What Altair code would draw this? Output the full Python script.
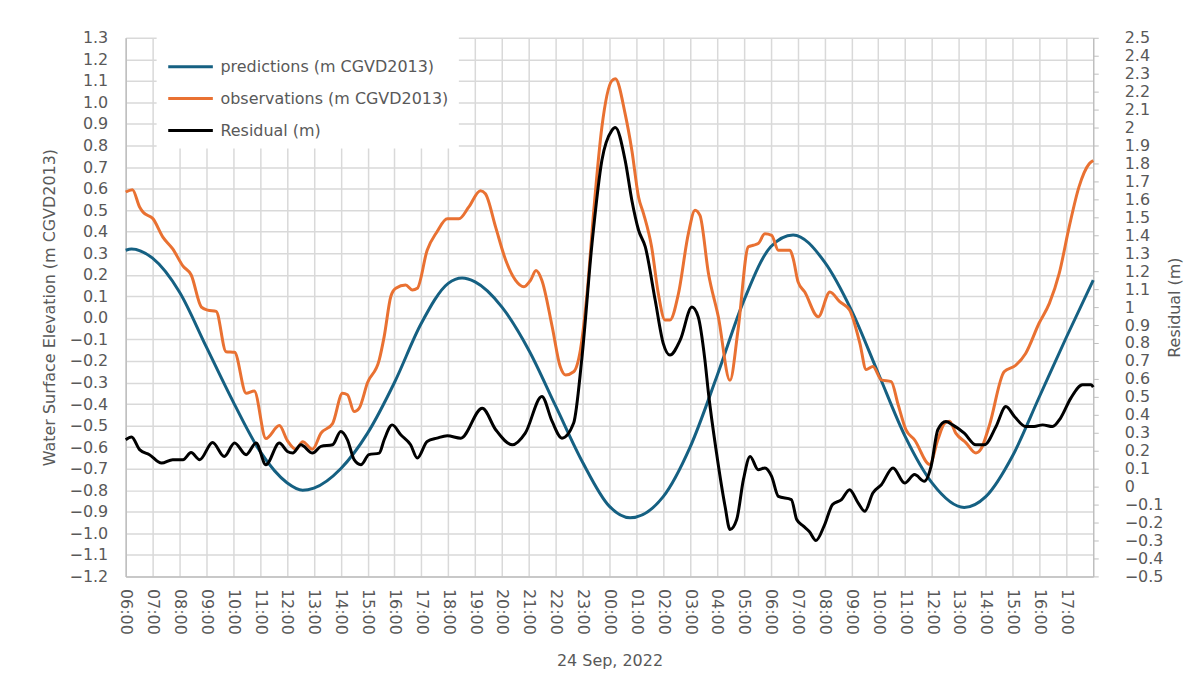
import altair as alt
import pandas as pd

FONT = "DejaVu Sans"
GREY = "#595959"

series_names = ["predictions (m CGVD2013)", "observations (m CGVD2013)", "Residual (m)"]
series_colors = ["#156082", "#E97132", "#000000"]

# day-of-month + time (Sep 2022)
pred_times = ["23 06:00", "23 06:13", "23 07:00", "23 08:00", "23 09:00", "23 10:00", "23 11:00",
              "23 12:00", "23 12:35", "23 13:00", "23 14:00", "23 15:00", "23 16:00", "23 17:00",
              "23 18:00", "23 18:31", "23 19:00", "23 20:00", "23 21:00", "23 22:00", "23 23:00",
              "24 00:00", "24 00:46", "24 02:00", "24 03:00", "24 04:00", "24 05:00", "24 06:00",
              "24 06:50", "24 08:00", "24 09:00", "24 10:00", "24 11:00", "24 12:00", "24 13:12",
              "24 14:00", "24 15:00", "24 16:00", "24 17:00", "24 18:00"]
pred_values = [0.314, 0.32, 0.277, 0.12, -0.135, -0.39, -0.62,
               -0.765, -0.80, -0.79, -0.70, -0.535, -0.30, -0.025,
               0.16, 0.185, 0.167, 0.05, -0.15, -0.41, -0.67,
               -0.875, -0.928, -0.83, -0.60, -0.27, 0.08, 0.33,
               0.385, 0.26, 0.036, -0.257, -0.55, -0.766, -0.88,
               -0.83, -0.64, -0.365, -0.09, 0.175]

obs_times = ["23 06:00", "23 06:15", "23 06:31", "23 06:39", "23 07:01", "23 07:23", "23 07:45",
             "23 08:08", "23 08:26", "23 08:49", "23 09:03", "23 09:22", "23 09:44", "23 10:03",
             "23 10:29", "23 10:47", "23 11:13", "23 11:43", "23 12:01", "23 12:20", "23 12:35",
             "23 12:57", "23 13:16", "23 13:42", "23 14:04", "23 14:15", "23 14:30", "23 14:41",
             "23 15:00", "23 15:26", "23 15:37", "23 15:52", "23 16:03", "23 16:25", "23 16:40",
             "23 16:51", "23 17:13", "23 17:35", "23 17:58", "23 18:24", "23 18:46", "23 19:12",
             "23 19:23", "23 19:46", "23 20:08", "23 20:30", "23 20:49", "23 21:04", "23 21:16",
             "23 21:29", "23 21:52", "23 22:10", "23 22:22", "23 22:40", "23 22:55", "23 23:10",
             "23 23:25", "23 23:43", "24 00:05", "24 00:13", "24 00:35", "24 00:50", "24 01:05",
             "24 01:16", "24 01:34", "24 01:49", "24 02:04", "24 02:15", "24 02:34", "24 02:56",
             "24 03:11", "24 03:22", "24 03:41", "24 04:03", "24 04:29", "24 04:47", "24 05:10",
             "24 05:21", "24 05:32", "24 05:47", "24 06:02", "24 06:17", "24 06:43", "24 06:50",
             "24 07:01", "24 07:16", "24 07:46", "24 08:12", "24 08:34", "24 08:56", "24 09:19",
             "24 09:33", "24 09:48", "24 10:07", "24 10:29", "24 10:44", "24 11:02", "24 11:21",
             "24 11:55", "24 12:13", "24 12:28", "24 12:39", "24 12:53", "24 13:16", "24 13:38",
             "24 13:49", "24 14:08", "24 14:41", "24 15:07", "24 15:29", "24 15:59", "24 16:22",
             "24 16:44", "24 17:06", "24 17:28", "24 17:51", "24 18:00"]
obs_values = [0.584, 0.595, 0.515, 0.49, 0.46, 0.375, 0.32,
              0.24, 0.20, 0.05, 0.036, 0.03, -0.157, -0.16,
              -0.35, -0.34, -0.56, -0.50, -0.57, -0.61, -0.575,
              -0.61, -0.535, -0.49, -0.35, -0.357, -0.435, -0.42,
              -0.30, -0.195, -0.087, 0.10, 0.137, 0.152, 0.129,
              0.137, 0.314, 0.40, 0.46, 0.46, 0.515, 0.59,
              0.576, 0.42, 0.27, 0.175, 0.144, 0.175, 0.22,
              0.175, -0.04, -0.226, -0.265, -0.25, -0.15, 0.113,
              0.50, 0.885, 1.10, 1.11, 0.947, 0.777, 0.56,
              0.484, 0.33, 0.113, -0.01, -0.01, 0.113, 0.39,
              0.50, 0.476, 0.206, 0.005, -0.29, -0.056, 0.33,
              0.337, 0.345, 0.39, 0.383, 0.314, 0.314, 0.276,
              0.167, 0.12, 0.005, 0.12, 0.075, 0.036, -0.118,
              -0.24, -0.226, -0.288, -0.296, -0.40, -0.52, -0.566,
              -0.68, -0.566, -0.49, -0.48, -0.535, -0.58, -0.627,
              -0.61, -0.50, -0.25, -0.22, -0.165, -0.025, 0.067,
              0.206, 0.42, 0.607, 0.715, 0.73]

res_times = ["23 06:00", "23 06:13", "23 06:31", "23 06:53", "23 07:20", "23 07:45", "23 08:08",
             "23 08:26", "23 08:45", "23 09:14", "23 09:40", "23 10:03", "23 10:29", "23 10:51",
             "23 11:13", "23 11:43", "23 12:01", "23 12:13", "23 12:31", "23 12:57", "23 13:16",
             "23 13:42", "23 14:00", "23 14:15", "23 14:30", "23 14:45", "23 15:03", "23 15:26",
             "23 15:37", "23 15:55", "23 16:14", "23 16:36", "23 16:51", "23 17:13", "23 17:35",
             "23 17:58", "23 18:28", "23 19:16", "23 19:46", "23 20:23", "23 20:52", "23 21:29",
             "23 21:52", "23 22:14", "23 22:40", "23 22:58", "23 23:21", "23 23:43", "24 00:05",
             "24 00:13", "24 00:35", "24 00:50", "24 01:05", "24 01:20", "24 01:42", "24 02:00",
             "24 02:15", "24 02:38", "24 03:04", "24 03:18", "24 03:33", "24 03:41", "24 03:59",
             "24 04:18", "24 04:29", "24 04:44", "24 04:59", "24 05:14", "24 05:32", "24 05:47",
             "24 06:02", "24 06:17", "24 06:46", "24 06:58", "24 07:13", "24 07:26", "24 07:41",
             "24 07:59", "24 08:18", "24 08:38", "24 08:56", "24 09:15", "24 09:30", "24 09:48",
             "24 10:07", "24 10:33", "24 10:59", "24 11:21", "24 11:43", "24 11:58", "24 12:13",
             "24 12:31", "24 12:46", "24 13:12", "24 13:38", "24 13:57", "24 14:23", "24 14:45",
             "24 15:04", "24 15:29", "24 15:48", "24 16:07", "24 16:29", "24 16:47", "24 17:10",
             "24 17:36", "24 17:55", "24 18:00"]
res_values = [0.261, 0.276, 0.206, 0.178, 0.131, 0.15, 0.15,
              0.19, 0.15, 0.246, 0.168, 0.243, 0.178, 0.243,
              0.122, 0.243, 0.196, 0.187, 0.233, 0.187, 0.224,
              0.233, 0.307, 0.261, 0.15, 0.122, 0.178, 0.187,
              0.261, 0.344, 0.289, 0.233, 0.159, 0.252, 0.27,
              0.283, 0.27, 0.437, 0.317, 0.233, 0.298, 0.502,
              0.363, 0.27, 0.354, 0.706, 1.354, 1.817, 1.983,
              2.0, 1.817, 1.594, 1.428, 1.335, 1.039, 0.798,
              0.733, 0.817, 1.0, 0.946, 0.706, 0.52, 0.187,
              -0.109, -0.239, -0.183, 0.039, 0.168, 0.094, 0.104,
              0.057, -0.054, -0.072, -0.183, -0.22, -0.25, -0.30,
              -0.22, -0.10, -0.072, -0.017, -0.09, -0.137, -0.035,
              0.011, 0.104, 0.02, 0.067, 0.03, 0.113, 0.317,
              0.363, 0.344, 0.298, 0.233, 0.233, 0.335, 0.446,
              0.391, 0.335, 0.335, 0.344, 0.335, 0.382, 0.493,
              0.567, 0.567, 0.554]

left_ticks = [round(-1.2 + 0.1 * i, 1) for i in range(26)]
right_ticks = [round(-0.5 + 0.1 * i, 1) for i in range(31)]
hour_ticks = [(23, h) for h in range(6, 24)] + [(24, h) for h in range(0, 18)]


def to_dt(ts):
    return pd.to_datetime(["2022-09-" + t for t in ts], format="%Y-%m-%d %H:%M")


left_df = pd.concat([
    pd.DataFrame({"time": to_dt(pred_times), "value": pred_values, "series": series_names[0]}),
    pd.DataFrame({"time": to_dt(obs_times), "value": obs_values, "series": series_names[1]}),
])
res_df = pd.DataFrame({"time": to_dt(res_times), "value": res_values, "series": series_names[2]})

x_values = [alt.DateTime(year=2022, month=9, date=d, hours=h) for d, h in hour_ticks]
x_domain = [alt.DateTime(year=2022, month=9, date=23, hours=6),
            alt.DateTime(year=2022, month=9, date=24, hours=18)]

x_enc = alt.X("time:T",
              scale=alt.Scale(domain=x_domain, nice=False),
              axis=alt.Axis(values=x_values, format="%H:%M", labelAngle=90,
                            labelPadding=12, title="24 Sep, 2022", titlePadding=18,
                            grid=True))

color_scale = alt.Scale(domain=series_names, range=series_colors)
legend = alt.Legend(title=None, orient="none", legendX=31, legendY=-5,
                    fillColor="white", padding=10, symbolType="stroke",
                    symbolSize=2000, symbolStrokeWidth=3, labelFontSize=16,
                    labelFont=FONT, labelColor=GREY, rowPadding=-13, labelOffset=6,
                    labelLimit=500)

left = alt.Chart(left_df).mark_line(interpolate="monotone", strokeWidth=3).encode(
    x=x_enc,
    y=alt.Y("value:Q",
            scale=alt.Scale(domain=[-1.2, 1.3], nice=False, zero=False),
            axis=alt.Axis(values=left_ticks, format=".1f", grid=True,
                          title="Water Surface Elevation (m CGVD2013)",
                          labelPadding=18, titlePadding=12)),
    color=alt.Color("series:N", scale=color_scale, legend=legend),
)

right = alt.Chart(res_df).mark_line(interpolate="monotone", strokeWidth=3).encode(
    x=x_enc,
    y=alt.Y("value:Q",
            scale=alt.Scale(domain=[-0.5, 2.5], nice=False, zero=False),
            axis=alt.Axis(orient="right", values=right_ticks,
                          labelExpr="format(datum.value, '.1~f')", grid=False,
                          ticks=True, tickSize=5, tickColor="#bfbfbf",
                          labelPadding=26, title="Residual (m)", titleAngle=-90,
                          titlePadding=20)),
    color=alt.Color("series:N", scale=color_scale, legend=legend),
)

chart = alt.layer(left, right).resolve_scale(y="independent").properties(
    width=970, height=540,
    autosize=alt.AutoSizeParams(type="none"),
    padding={"left": 118, "top": 29, "right": 100, "bottom": 100},
).configure_view(stroke=None).configure_axis(
    gridColor="#d9d9d9", gridWidth=1.5, domainColor="#bfbfbf", domainWidth=1.5,
    labelColor=GREY, titleColor=GREY, labelFontSize=16, titleFontSize=16,
    titleFontWeight="normal", labelFont=FONT, titleFont=FONT, ticks=False,
)

chart.save("out.html", embed_options={"renderer": "svg", "actions": False})
